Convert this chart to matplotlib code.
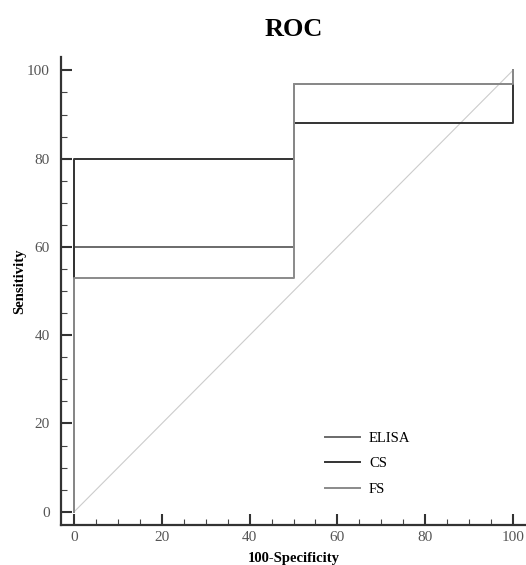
import matplotlib
matplotlib.use("Agg")
import matplotlib.pyplot as plt
from matplotlib.ticker import MultipleLocator

# Data
series_names = ["ELISA", "CS", "FS"]
elisa_x = [0, 0, 50, 50, 100, 100]
elisa_y = [0, 60, 60, 97, 97, 100]
cs_x = [0, 0, 50, 50, 100, 100]
cs_y = [0, 80, 80, 88, 88, 100]
fs_x = [0, 0, 50, 50, 100, 100]
fs_y = [0, 53, 53, 97, 97, 100]
diag_x = [0, 100]
diag_y = [0, 100]
x_ticks = [0, 20, 40, 60, 80, 100]
y_ticks = [0, 20, 40, 60, 80, 100]

colors = {"ELISA": "#6a6a6a", "CS": "#333333", "FS": "#8a8a8a"}

plt.rcParams['font.family'] = ['Liberation Serif', 'DejaVu Serif']

fig = plt.figure(figsize=(5.26, 5.65), dpi=100)
ax = fig.add_axes([0.116, 0.0708, 0.884, 0.828])

ax.plot(diag_x, diag_y, color="#cccccc", lw=0.8, zorder=1)
ax.plot(elisa_x, elisa_y, color=colors["ELISA"], lw=1.4, label="ELISA", zorder=2)
ax.plot(cs_x, cs_y, color=colors["CS"], lw=1.4, label="CS", zorder=3)
ax.plot(fs_x, fs_y, color=colors["FS"], lw=1.4, label="FS", zorder=4)

ax.set_xlim(-3, 103)
ax.set_ylim(-3, 103)
ax.set_xticks(x_ticks)
ax.set_yticks(y_ticks)
ax.xaxis.set_minor_locator(MultipleLocator(5))
ax.yaxis.set_minor_locator(MultipleLocator(5))

for s in ["top", "right"]:
    ax.spines[s].set_visible(False)
for s in ["left", "bottom"]:
    ax.spines[s].set_color("#333333")
    ax.spines[s].set_linewidth(1.6)

ax.tick_params(which="major", direction="in", length=8, width=1.5, color="#333333",
               labelsize=11, labelcolor="#555555")
ax.tick_params(which="minor", direction="in", length=4.5, width=0.8, color="#444444")
ax.tick_params(axis="y", which="major", pad=8)
ax.tick_params(axis="x", which="major", pad=4)

ax.set_xlabel("100-Specificity", fontsize=10.5, fontweight="bold", labelpad=6)
ax.set_ylabel("Sensitivity", fontsize=10.5, fontweight="bold", labelpad=4)
ax.yaxis.set_label_coords(-0.075, 0.52)
ax.set_title("ROC", fontsize=19, fontweight="bold", pad=15)

leg = ax.legend(loc="upper left", bbox_to_anchor=(0.54, 0.228), frameon=False,
                fontsize=10.5, handlelength=2.4, labelspacing=0.85, handletextpad=0.6)

fig.savefig("out.png", dpi=100)
